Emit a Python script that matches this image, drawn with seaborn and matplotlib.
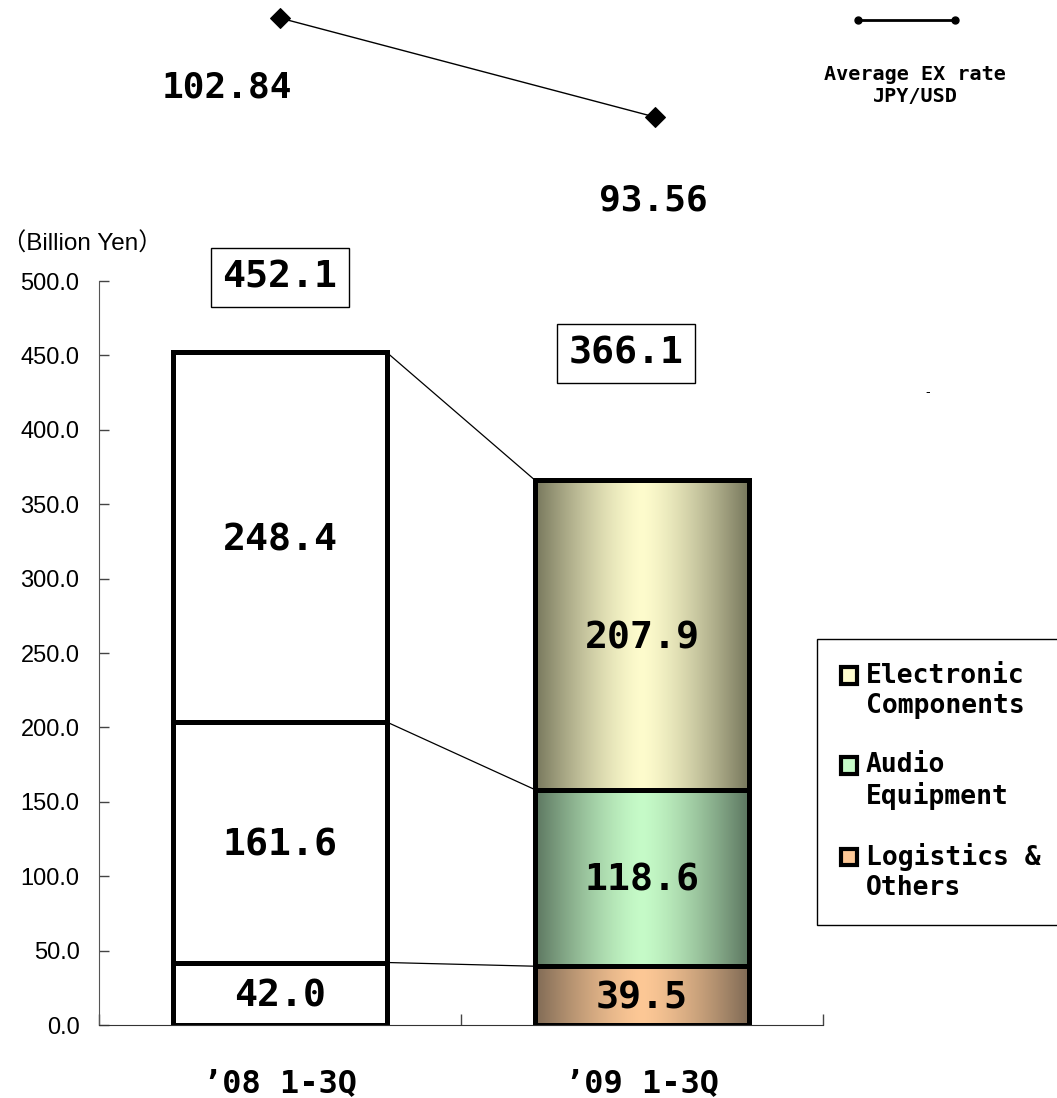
import numpy as np
import pandas as pd
import seaborn as sns
import matplotlib.pyplot as plt
from matplotlib.lines import Line2D
from matplotlib.patches import Patch, Rectangle
from matplotlib.legend_handler import HandlerPatch
from matplotlib.colors import to_rgb

# data
categories = ["’08 1-3Q", "’09 1-3Q"]
logistics = [42.0, 39.5]
audio = [161.6, 118.6]
electronic = [248.4, 207.9]
totals = [452.1, 366.1]
ex_rate = [102.84, 93.56]
segment_names = ["Logistics &\nOthers", "Audio\nEquipment", "Electronic\nComponents"]

# gradient colours for the '09 bar: (edge, centre)
grad_colors = [("#7f6a55", "#fdc896"), ("#5c7660", "#c6fbc8"), ("#77775c", "#fefccd")]

sns.set_style("ticks")
plt.rcParams['font.family'] = ['Liberation Sans', 'Noto Sans CJK JP', 'DejaVu Sans']
plt.rcParams['text.color'] = 'black'
plt.rcParams['xtick.labelcolor'] = 'black'
plt.rcParams['ytick.labelcolor'] = 'black'
mono = dict(family='DejaVu Sans Mono', weight='bold')

W, H = 1057, 1098
fig = plt.figure(figsize=(W / 100, H / 100), dpi=100)
ax = fig.add_axes([99 / W, 73 / H, 724 / W, 744 / H])

segments = [logistics, audio, electronic]
bottoms = np.zeros(len(categories))
seg_patches = []
for vals in segments:
    n0 = len(ax.patches)
    sns.barplot(x=categories, y=vals, bottom=bottoms, width=0.59, color='white',
                edgecolor='black', linewidth=3.6, errorbar=None, ax=ax, zorder=2)
    seg_patches.append(ax.patches[n0:])
    bottoms = bottoms + np.array(vals)

# gradient fills for the '09 bar
for (edge, centre), patches in zip(grad_colors, seg_patches):
    p = patches[1]
    x0, y0 = p.get_x(), p.get_y()
    w, h = p.get_width(), p.get_height()
    t = np.abs(np.linspace(-1, 1, 256)) ** 1.4
    e, c = np.array(to_rgb(edge)), np.array(to_rgb(centre))
    img = (c[None, :] + (e - c)[None, :] * t[:, None])[None, :, :]
    p.set_facecolor('none')
    im = ax.imshow(img, extent=[x0, x0 + w, y0, y0 + h], aspect='auto',
                   zorder=1.5, interpolation='bilinear')
    im.set_clip_path(p)

# connector lines between segment tops
for patches in seg_patches:
    a, b = patches[0], patches[1]
    ax.plot([a.get_x() + a.get_width(), b.get_x()],
            [a.get_y() + a.get_height(), b.get_y() + b.get_height()],
            color='black', lw=0.9, zorder=1)

# segment value labels
for vals, patches in zip(segments, seg_patches):
    for v, p in zip(vals, patches):
        ax.text(p.get_x() + p.get_width() / 2, p.get_y() + p.get_height() / 2 - 2,
                f"{v:.1f}", ha='center', va='center', fontsize=27.5, zorder=3, **mono)

# totals in boxes
total_offsets = [(0, 54), (-11.5, 91)]
for i, (tot, off) in enumerate(zip(totals, total_offsets)):
    ax.annotate(f"{tot:.1f}", xy=(i, tot), xytext=off, textcoords='offset points',
                ha='center', va='center', fontsize=27.5, **mono,
                bbox=dict(boxstyle='square,pad=0.3', fc='white', ec='black', lw=1))

ax.set_xlim(-0.5, 1.5)
ax.set_ylim(0, 500)
ax.set_yticks(np.arange(0, 501, 50))
ax.set_yticklabels([f"{v:.1f}" for v in np.arange(0, 501, 50)], fontsize=17)
ax.tick_params(axis='y', direction='in', length=7, width=1, pad=14, colors='#444444',
               labelcolor='black')
ax.set_xticks([0, 1])
ax.set_xticklabels(categories, fontsize=23, **mono)
ax.tick_params(axis='x', which='major', length=0, pad=31)
ax.set_xticks([-0.5, 0.5, 1.5], minor=True)
ax.tick_params(axis='x', which='minor', direction='in', length=8, width=1, colors='#444444')
ax.set_xlabel('')
ax.set_ylabel('')
sns.despine(ax=ax)
ax.spines['left'].set_color('#555555')
ax.spines['bottom'].set_color('#333333')

fig.text(2 / W, 1 - 244 / H, "（Billion Yen）", fontsize=17.5, va='center', ha='left')


# legend, handle aligned with the first line of each two-line label
def top_square(legend, orig_handle, xdescent, ydescent, width, height, fontsize):
    return Rectangle((-xdescent, -ydescent + 0.6 * fontsize), width, height)


handles = [Patch(facecolor=c, edgecolor='black', linewidth=3) for _, c in grad_colors][::-1]
leg = ax.legend(handles, segment_names[::-1], loc='upper left',
                bbox_to_anchor=(817 / W, 1 - 639 / H), bbox_transform=fig.transFigure,
                frameon=True, fancybox=False, edgecolor='black', framealpha=1,
                prop=dict(size=19, **mono), handlelength=0.6, handleheight=0.6,
                handletextpad=0.35, labelspacing=1.25, borderpad=0.9, borderaxespad=0,
                handler_map={Patch: HandlerPatch(patch_func=top_square)})
leg.get_frame().set_linewidth(1)

fig.text(928 / W, 1 - 392 / H, "-", fontsize=10, ha='center', va='center')

# exchange rate line at the top
ax_top = fig.add_axes([92.5 / W, 1 - 230 / H, 750 / W, 230 / H])
sns.lineplot(x=[0, 1], y=ex_rate, ax=ax_top, color='black', lw=1, marker='D',
             markersize=10, markeredgecolor='black')
ax_top.set_xlim(-0.5, 1.5)
ax_top.set_ylim(82.97, 104.53)
ax_top.axis('off')
for i, (v, off) in enumerate(zip(ex_rate, [(-38, -50), (-1.5, -60)])):
    ax_top.annotate(f"{v:.2f}", xy=(i, v), xytext=off, textcoords='offset points',
                    ha='center', va='center', fontsize=26, **mono)

fig.add_artist(Line2D([858 / W, 955 / W], [1 - 20 / H] * 2, transform=fig.transFigure,
                      color='black', lw=2, marker='o', markersize=5))
fig.text(915 / W, 1 - 86 / H, "Average EX rate\nJPY/USD", ha='center', va='center',
         multialignment='center', fontsize=14.5, **mono)

fig.savefig('out.png', dpi=100)
